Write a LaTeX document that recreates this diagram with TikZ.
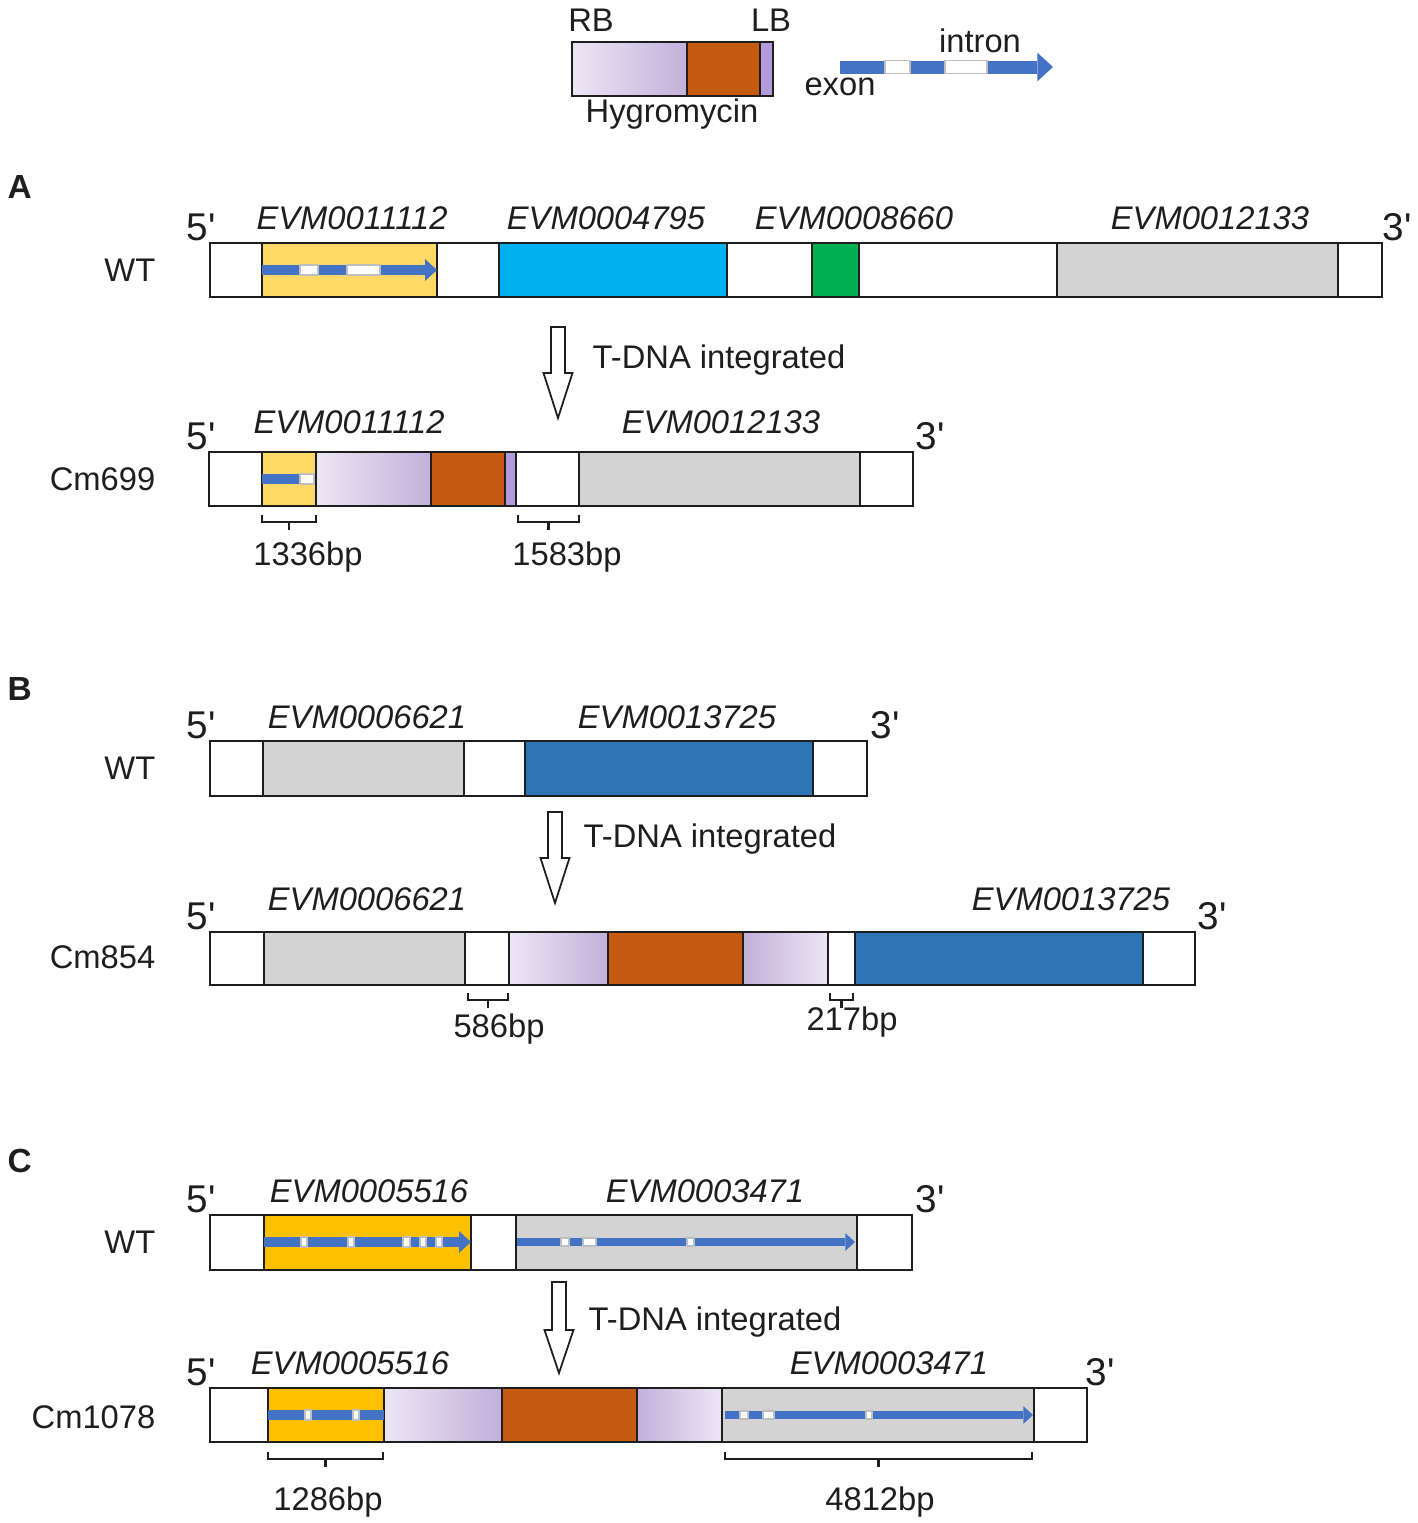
\documentclass[tikz,border=0pt]{standalone}
\usepackage{fontspec}
\setmainfont{Liberation Sans}
\newfontfamily\primefont[Ligatures=TeXOff]{Liberation Sans}
\usetikzlibrary{positioning}
\definecolor{hygorange}{HTML}{C55A11}
\definecolor{rblight}{HTML}{ECE6F4}
\definecolor{rbdark}{HTML}{C3B0DA}
\definecolor{lbpurple}{HTML}{B19CD9}
\definecolor{exonblue}{HTML}{4472C4}
\definecolor{paleyellow}{HTML}{FFD966}
\definecolor{gold}{HTML}{FFC000}
\definecolor{skyblue}{HTML}{00B0F0}
\definecolor{leafgreen}{HTML}{00B050}
\definecolor{genegray}{HTML}{D3D3D3}
\definecolor{steelblue}{HTML}{2E75B6}
\definecolor{ink}{HTML}{1E1E1E}
\tikzset{
    lbl/.style={
        font=\fontsize{9.3}{11}\selectfont,
        text=ink,
        inner sep=0pt,
        anchor=base
    },
    gene/.style={lbl, font=\fontsize{9.3}{11}\selectfont\itshape},
    prime/.style={lbl, font=\primefont\fontsize{11}{13}\selectfont},
    strain/.style={lbl, anchor=base east},
    panel/.style={lbl, anchor=base west, font=\fontsize{9.5}{11}\selectfont\bfseries},
    seg/.style={draw=ink, line width=0.6pt},
    gap/.style={fill=white, draw=black!25, line width=0.3pt},
    hollow/.style={draw=ink, line width=0.5pt, fill=white},
    brk/.style={draw=ink, line width=0.6pt}
}
% plain segments: ytop, ybot, list x1/x2/colour
\newcommand{\segs}[3]{\foreach \xa/\xb/\col in {#3}{\filldraw[seg, fill=\col] (\xa,#1) rectangle (\xb,#2);}}
% T-DNA border segment with shading
\newcommand{\hyg}[6]{\shade[left color=#5, right color=#6] (#1,#3) rectangle (#2,#4);
    \draw[seg] (#1,#3) rectangle (#2,#4);}
% gene model: x1, x2, y, half width, introns
\newcommand{\genearrow}[5]{\fill[exonblue] (#1,#3-#4) rectangle (#2-#4*2.4,#3+#4);
    \fill[exonblue] (#2-#4*2.4,#3-#4*2.2) -- (#2,#3) -- (#2-#4*2.4,#3+#4*2.2) -- cycle;
    \foreach \xa/\xb in {#5}{\filldraw[gap] (\xa,#3-#4) rectangle (\xb,#3+#4);}}
\newcommand{\exonbar}[5]{\fill[exonblue] (#1,#3-#4) rectangle (#2,#3+#4);
    \foreach \xa/\xb in {#5}{\filldraw[gap] (\xa,#3-#4) rectangle (\xb,#3+#4);}}
% hollow down arrow: x, top, neck, tip
\newcommand{\tdna}[4]{\draw[hollow] ({#1-7},#2) -- ({#1+7},#2) -- ({#1+7},#3) -- ({#1+14.5},#3)
    -- (#1,#4) -- ({#1-14.5},#3) -- ({#1-7},#3) -- cycle;}
% size bracket: x1, x2, y, name, text, label x, label y
\newcommand{\bpmark}[7]{\draw[brk] (#1,#3) -- (#1,#3+7) -- (#2,#3+7) -- (#2,#3);
    \draw[brk] ({(#1+#2)/2},#3+7) -- ({(#1+#2)/2},#3+15);
    \node[lbl] (#4) at (#6,#7) {#5};}
\begin{document}
\begin{tikzpicture}[x=0.01cm, y=-0.01cm]
    \useasboundingbox (0,0) rectangle (1418,1523);

    % Legend
    \node[lbl] (rb) at (591,31) {RB};
    \node[lbl] (lb) at (771,31) {LB};
    \hyg{572}{687}{42}{96}{rblight}{rbdark}
    \segs{42}{96}{687/760/hygorange, 760/773/lbpurple}
    \node[lbl] (hyg) at (672,122) {Hygromycin};
    \genearrow{840}{1053}{67}{6.5}{885/910, 945/987}
    \node[lbl] (intron) at (980,52) {intron};
    \node[lbl] (exon) at (840,95) {exon};

    % A - WT
    \node[panel] (pa) at (7,198) {A};
    \segs{243}{297}{210/262/white, 262/437/paleyellow, 437/499/white, 499/727/skyblue,
        727/812/white, 812/859/leafgreen, 859/1057/white, 1057/1338/genegray, 1338/1382/white}
    \genearrow{262}{437}{270}{5}{300/318, 347/380}
    \node[gene] (a1) at (352,229) {EVM0011112};
    \node[gene] (a2) at (606,229) {EVM0004795};
    \node[gene] (a3) at (854,229) {EVM0008660};
    \node[gene] (a4) at (1210,229) {EVM0012133};
    \node[prime] (a5p) at (201,240) {5'};
    \node[prime] (a3p) at (1397,240) {3'};
    \node[strain] (awt) at (156,281) {WT};
    \tdna{558}{327}{373}{418}
    \node[lbl, anchor=base west] (tda) at (592,368) {T-DNA integrated};

    % A - Cm699
    \segs{452}{506}{209/262/white, 262/316/paleyellow}
    \hyg{316}{431}{452}{506}{rblight}{rbdark}
    \segs{452}{506}{431/505/hygorange, 505/516/lbpurple, 516/579/white, 579/860/genegray, 860/913/white}
    \exonbar{262}{314}{479}{5}{300/314}
    \node[gene] (m1) at (349,433) {EVM0011112};
    \node[gene] (m4) at (721,433) {EVM0012133};
    \node[prime] (m5p) at (201,449) {5'};
    \node[prime] (m3p) at (930,449) {3'};
    \node[strain] (cm699) at (156,490) {Cm699};
    \bpmark{262}{316}{515}{bp1336}{1336bp}{308}{565}
    \bpmark{518}{579}{515}{bp1583}{1583bp}{567}{565}

    % B - WT
    \node[panel] (pb) at (7,700) {B};
    \segs{741}{796}{210/263/white, 263/464/genegray, 464/525/white, 525/813/steelblue, 813/867/white}
    \node[gene] (b1) at (367,728) {EVM0006621};
    \node[gene] (b2) at (677,728) {EVM0013725};
    \node[prime] (b5p) at (201,738) {5'};
    \node[prime] (b3p) at (885,738) {3'};
    \node[strain] (bwt) at (156,779) {WT};
    \tdna{555}{812}{858}{903}
    \node[lbl, anchor=base west] (tdb) at (583,847) {T-DNA integrated};

    % B - Cm854
    \segs{932}{985}{210/264/white, 264/465/genegray, 465/509/white}
    \hyg{509}{608}{932}{985}{rblight}{rbdark}
    \segs{932}{985}{608/743/hygorange}
    \hyg{743}{828}{932}{985}{rbdark}{rblight}
    \segs{932}{985}{828/855/white, 855/1143/steelblue, 1143/1195/white}
    \node[gene] (n1) at (367,910) {EVM0006621};
    \node[gene] (n2) at (1071,910) {EVM0013725};
    \node[prime] (n5p) at (201,929) {5'};
    \node[prime] (n3p) at (1212,929) {3'};
    \node[strain] (cm854) at (156,968) {Cm854};
    \bpmark{468}{508}{993}{bp586}{586bp}{499}{1037}
    \bpmark{830}{853}{993}{bp217}{217bp}{852}{1030}

    % C - WT
    \node[panel] (pc) at (7,1172) {C};
    \segs{1215}{1270}{210/264/white, 264/471/gold, 471/516/white, 516/857/genegray, 857/912/white}
    \genearrow{264}{471}{1242}{5}{301/307, 348/354, 403/410, 420/426, 436/442}
    \genearrow{517}{855}{1242}{4}{561/569, 583/596, 687/694}
    \node[gene] (c1) at (369,1202) {EVM0005516};
    \node[gene] (c2) at (705,1202) {EVM0003471};
    \node[prime] (c5p) at (201,1212) {5'};
    \node[prime] (c3p) at (930,1212) {3'};
    \node[strain] (cwt) at (156,1253) {WT};
    \tdna{559}{1282}{1330}{1373}
    \node[lbl, anchor=base west] (tdc) at (588,1330) {T-DNA integrated};

    % C - Cm1078
    \segs{1388}{1442}{210/268/white, 268/384/gold}
    \hyg{384}{502}{1388}{1442}{rblight}{rbdark}
    \segs{1388}{1442}{502/637/hygorange}
    \hyg{637}{722}{1388}{1442}{rbdark}{rblight}
    \segs{1388}{1442}{722/1034/genegray, 1034/1087/white}
    \exonbar{268}{384}{1415}{5}{305/311, 353/359}
    \genearrow{725}{1033}{1415}{4}{740/748, 763/774, 866/872}
    \node[gene] (k1) at (350,1374) {EVM0005516};
    \node[gene] (k2) at (889,1374) {EVM0003471};
    \node[prime] (k5p) at (201,1385) {5'};
    \node[prime] (k3p) at (1100,1385) {3'};
    \node[strain] (cm1078) at (156,1428) {Cm1078};
    \bpmark{268}{383}{1452}{bp1286}{1286bp}{328}{1510}
    \bpmark{725}{1032}{1452}{bp4812}{4812bp}{880}{1510}
\end{tikzpicture}
\end{document}
